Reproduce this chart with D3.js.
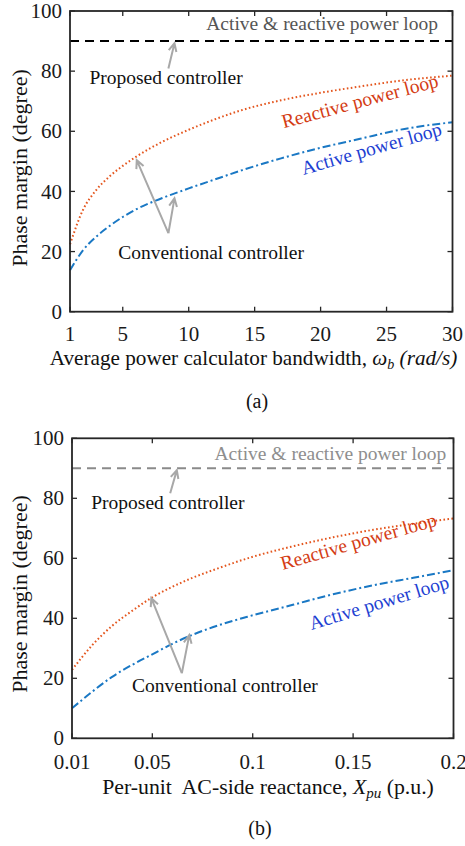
<!doctype html>
<html lang="en">
  <head>
    <meta charset="utf-8">
    <title>Phase margin</title>
    <style>
      body { margin: 0; background: #fff; }
      text { font-family: Liberation Serif, Times New Roman, Times, DejaVu Serif, serif; }
    </style>
  </head>
  <body>
    <div id="chart"></div>
    <script src="https://d3js.org/d3.v7.min.js"></script>
    <script>
    // (a) bandwidth sweep
    var bwX = [1, 2, 3, 4, 5, 6, 8, 10, 12, 14, 17, 20, 23, 26, 30];
    var bwReactive = [22.4, 34, 40.5, 45, 48.5, 51.5, 56.5, 60.5, 64, 67, 70.3, 72.8, 74.9, 76.8, 78.5];
    var bwActive = [13.8, 20.5, 25, 28.5, 31.5, 34, 37.8, 41, 44, 47, 51, 54.5, 57.5, 60.5, 63];
    var bwTicks = [1, 5, 10, 15, 20, 25, 30];

    // (b) reactance sweep
    var xpX = [0.01, 0.02, 0.03, 0.04, 0.05, 0.06, 0.07, 0.08, 0.1, 0.12, 0.14, 0.16, 0.18, 0.2];
    var xpReactive = [22.8, 31, 37.5, 42.5, 47, 50.5, 53.5, 56, 60.5, 64, 67, 69.5, 71.5, 73.3];
    var xpActive = [10, 15.5, 20.5, 24.5, 28, 31.5, 34.5, 37, 41, 44.5, 48, 51, 53.5, 56];
    var xpTicks = [0.01, 0.05, 0.1, 0.15, 0.2];

    var proposedPM = 90;
    var yTicks = [0, 20, 40, 60, 80, 100];

    var svg = d3.select("#chart")
        .append("svg")
        .attr("width", 465)
        .attr("height", 846);

    var axisColor = "#262626";
    var tickSize = 21, noteSize = 19.5;

    function panel(o) {
      var x = d3.scaleLinear().domain(o.xDomain).range([o.left, o.right]);
      var y = d3.scaleLinear().domain([0, 100]).range([o.bottom, o.top]);
      var g = svg.append("g");

      // ticks inside, all four sides
      var tick = 5;
      o.ticks.forEach(function(t){
        g.append("line").attr("x1", x(t)).attr("x2", x(t)).attr("y1", o.bottom).attr("y2", o.bottom - tick)
          .attr("stroke", axisColor).attr("stroke-width", 1.3);
        g.append("line").attr("x1", x(t)).attr("x2", x(t)).attr("y1", o.top).attr("y2", o.top + tick)
          .attr("stroke", axisColor).attr("stroke-width", 1.3);
        g.append("text").attr("x", x(t)).attr("y", o.bottom + o.tickDy)
          .attr("text-anchor", "middle").attr("font-size", tickSize).attr("fill", "#1a1a1a")
          .text(o.tickFmt(t));
      });
      yTicks.forEach(function(t){
        g.append("line").attr("x1", o.left).attr("x2", o.left + tick).attr("y1", y(t)).attr("y2", y(t))
          .attr("stroke", axisColor).attr("stroke-width", 1.3);
        g.append("line").attr("x1", o.right).attr("x2", o.right - tick).attr("y1", y(t)).attr("y2", y(t))
          .attr("stroke", axisColor).attr("stroke-width", 1.3);
        g.append("text").attr("x", o.left - 8).attr("y", y(t)).attr("dy", "0.34em")
          .attr("text-anchor", "end").attr("font-size", tickSize).attr("fill", "#1a1a1a")
          .text(t);
      });

      // proposed controller line
      g.append("line")
        .attr("x1", x(o.xDomain[0])).attr("x2", x(o.xDomain[1]))
        .attr("y1", y(proposedPM)).attr("y2", y(proposedPM))
        .attr("stroke", o.dashColor).attr("stroke-width", 2)
        .attr("stroke-dasharray", "9 6");

      var line = d3.line()
        .x(function(d){ return x(d[0]); })
        .y(function(d){ return y(d[1]); })
        .curve(d3.curveMonotoneX);

      g.append("path")
        .datum(d3.zip(o.xs, o.reactive))
        .attr("d", line)
        .attr("fill", "none")
        .attr("stroke", "#e4561e")
        .attr("stroke-width", 2)
        .attr("stroke-dasharray", "1.6 2.4");

      g.append("path")
        .datum(d3.zip(o.xs, o.active))
        .attr("d", line)
        .attr("fill", "none")
        .attr("stroke", "#1a78c4")
        .attr("stroke-width", 2)
        .attr("stroke-dasharray", "8 3 2 3");

      // frame
      g.append("rect")
        .attr("x", o.left).attr("y", o.top)
        .attr("width", o.right - o.left).attr("height", o.bottom - o.top)
        .attr("fill", "none").attr("stroke", axisColor).attr("stroke-width", 1.8);

      // annotations
      function arrow(from, to) {
        var x1 = x(from[0]), y1 = y(from[1]), x2 = x(to[0]), y2 = y(to[1]);
        var a = Math.atan2(y2 - y1, x2 - x1), h = 9, w = 0.45;
        g.append("path")
          .attr("d", "M" + x1 + "," + y1 + "L" + x2 + "," + y2 +
            "M" + (x2 - h * Math.cos(a - w)) + "," + (y2 - h * Math.sin(a - w)) +
            "L" + x2 + "," + y2 +
            "L" + (x2 - h * Math.cos(a + w)) + "," + (y2 - h * Math.sin(a + w)))
          .attr("fill", "none").attr("stroke", "#a8a8a8").attr("stroke-width", 2);
      }
      arrow(o.propArrow[0], o.propArrow[1]);
      arrow(o.convBase, o.convTipR);
      arrow(o.convBase, o.convTipA);

      g.append("text").attr("x", x(o.bothLabel[0])).attr("y", y(o.bothLabel[1]))
        .attr("text-anchor", "end").attr("font-size", noteSize).attr("fill", o.bothColor)
        .text("Active & reactive power loop");
      g.append("text").attr("x", x(o.propLabel[0])).attr("y", y(o.propLabel[1]))
        .attr("font-size", noteSize).attr("fill", "#111")
        .text("Proposed controller");
      g.append("text").attr("x", x(o.convLabel[0])).attr("y", y(o.convLabel[1]))
        .attr("font-size", noteSize).attr("fill", "#111")
        .text("Conventional controller");
      g.append("text")
        .attr("transform", "translate(" + x(o.reactLabel[0]) + "," + y(o.reactLabel[1]) + ") rotate(" + o.reactLabel[2] + ")")
        .attr("font-size", noteSize).attr("fill", "#d43c14")
        .text("Reactive power loop");
      g.append("text")
        .attr("transform", "translate(" + x(o.actLabel[0]) + "," + y(o.actLabel[1]) + ") rotate(" + o.actLabel[2] + ")")
        .attr("font-size", noteSize).attr("fill", "#1e3fd2")
        .text("Active power loop");

      // axis titles
      g.append("text")
        .attr("transform", "translate(" + o.yTitleX + "," + o.yTitleY + ") rotate(-90)")
        .attr("text-anchor", "middle").attr("font-size", 22).attr("fill", "#111")
        .text("Phase margin (degree)");
      var xt = g.append("text").attr("x", o.xTitleX).attr("y", o.xTitleY)
        .attr("text-anchor", "middle").attr("font-size", o.xTitleSize).attr("fill", "#111");
      o.xTitle(xt);
      g.append("text").attr("x", o.capX).attr("y", o.capY)
        .attr("text-anchor", "middle").attr("font-size", 20).attr("fill", "#111")
        .text(o.caption);
    }

    panel({
      xDomain: [1, 30], xs: bwX, reactive: bwReactive, active: bwActive, ticks: bwTicks,
      tickFmt: function(t){ return t; },
      left: 70, right: 452.5, top: 11, bottom: 311.7, tickDy: 29.5,
      dashColor: "#000", bothColor: "#555",
      propArrow: [[8.46, 80.9], [8.92, 89.3]],
      convBase: [8.46, 26.1], convTipR: [6.06, 50.4], convTipA: [8.92, 37.7],
      bothLabel: [28.9, 93.7], propLabel: [2.47, 75.7], convLabel: [4.65, 17.5],
      reactLabel: [17.2, 61, -15], actLabel: [18.7, 45.5, -16],
      yTitleX: 27, yTitleY: 168,
      xTitleX: 253.5, xTitleY: 365, xTitleSize: 21.2,
      xTitle: function(t){
        t.append("tspan").text("Average power calculator bandwidth, ");
        t.append("tspan").attr("font-style", "italic").text("ω");
        t.append("tspan").attr("font-style", "italic").attr("font-size", 14).attr("dy", 4).text("b");
        t.append("tspan").attr("font-style", "italic").attr("dy", -4).text(" (rad/s)");
      },
      capX: 257, capY: 408, caption: "(a)"
    });

    panel({
      xDomain: [0.01, 0.2], xs: xpX, reactive: xpReactive, active: xpActive, ticks: xpTicks,
      tickFmt: function(t){ return String(t); },
      left: 72, right: 453.5, top: 438.3, bottom: 738.3, tickDy: 31,
      dashColor: "#8a8a8a", bothColor: "#8e8e8e",
      propArrow: [[0.0589, 81.7], [0.0622, 89.4]],
      convBase: [0.0647, 21.7], convTipR: [0.0495, 46.7], convTipA: [0.0684, 34.4],
      bothLabel: [0.1964, 92.8], propLabel: [0.0196, 76.3], convLabel: [0.0399, 15.5],
      reactLabel: [0.115, 56.1, -16], actLabel: [0.1293, 36.1, -17],
      yTitleX: 27, yTitleY: 594,
      xTitleX: 268, xTitleY: 794, xTitleSize: 21.8,
      xTitle: function(t){
        t.append("tspan").text("Per-unit\u00a0 AC-side reactance, ");
        t.append("tspan").attr("font-style", "italic").text("X");
        t.append("tspan").attr("font-style", "italic").attr("font-size", 15).attr("dy", 4).text("pu");
        t.append("tspan").attr("dy", -4).text(" (p.u.)");
      },
      capX: 260, capY: 835, caption: "(b)"
    });
    </script>
  </body>
</html>
